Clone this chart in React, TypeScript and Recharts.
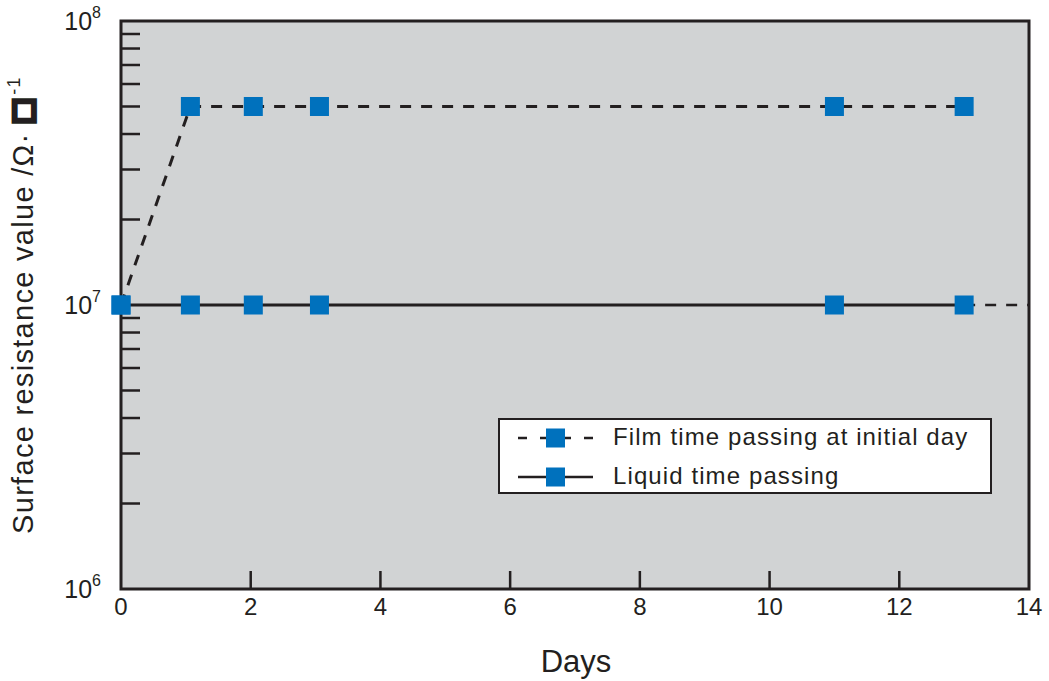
import React from 'react';
import { LineChart, Line, XAxis, YAxis, ReferenceArea, Legend } from 'recharts';

const filmDays = [0, 1.07, 2.04, 3.06, 11, 13];
const filmValues = [1e7, 5e7, 5e7, 5e7, 5e7, 5e7];
const liquidDays = [0, 1.07, 2.04, 3.06, 11, 13];
const liquidValues = [1e7, 1e7, 1e7, 1e7, 1e7, 1e7];
const tailDays = [13, 14];
const tailValues = [1e7, 1e7];
const xTicks = [0, 2, 4, 6, 8, 10, 12, 14];
const yTicks = [1e6, 2e6, 3e6, 4e6, 5e6, 6e6, 7e6, 8e6, 9e6, 1e7, 2e7, 3e7, 4e7, 5e7, 6e7, 7e7, 8e7, 9e7, 1e8];
const seriesNames = ['Film time passing at initial day', 'Liquid time passing'];

const filmData = filmDays.map((d, i) => ({ day: d, value: filmValues[i] }));
const liquidData = liquidDays.map((d, i) => ({ day: d, value: liquidValues[i] }));
const tailData = tailDays.map((d, i) => ({ day: d, value: tailValues[i] }));

const INK = '#231f20';
const BLUE = '#0071bd';
const FONT = '"Liberation Sans", Arial, Helvetica, sans-serif';

const SquareDot = (props: any) => {
  const { cx, cy } = props;
  if (cx == null || cy == null) return null;
  return <rect x={cx - 9.5} y={cy - 9.5} width={19} height={19} fill={BLUE} />;
};

const YTick = (props: any) => {
  const { x, y, payload } = props;
  const v = payload.value;
  const exp = Math.round(Math.log10(v));
  const isMajor = Math.abs(Math.pow(10, exp) - v) < 1;
  return (
    <g>
      {!isMajor && <line x1={x} x2={x + 19} y1={y} y2={y} stroke={INK} strokeWidth={2.5} />}
      {isMajor && (
        <text x={x - 20} y={y + 9} textAnchor="end" fill={INK} fontSize={25} fontFamily={FONT}>
          <tspan>10</tspan>
          <tspan dy={-12} fontSize={16}>{exp}</tspan>
        </text>
      )}
    </g>
  );
};

const XTick = (props: any) => {
  const { x, y, payload } = props;
  const v = payload.value;
  return (
    <g>
      {v !== 0 && v !== 14 && <line x1={x} x2={x} y1={y} y2={y - 18} stroke={INK} strokeWidth={2.5} />}
      <text x={x} y={y + 26} textAnchor="middle" fill={INK} fontSize={24} fontFamily={FONT}>{v}</text>
    </g>
  );
};

const LegendContent = () => (
  <div
    style={{
      width: 494,
      height: 76,
      boxSizing: 'border-box',
      border: `2.5px solid ${INK}`,
      background: '#ffffff',
      fontFamily: FONT,
      fontSize: 24,
      letterSpacing: '1.1px',
      color: INK,
      position: 'relative',
    }}
  >
    {seriesNames.map((name, i) => (
      <div key={name} style={{ position: 'absolute', left: 0, top: i === 0 ? 5 : 44, height: 26, width: '100%' }}>
        <svg width={80} height={26} style={{ position: 'absolute', left: 17, top: 0 }}>
          <line x1={1} x2={76} y1={13} y2={13} stroke={INK} strokeWidth={2.5} strokeDasharray={i === 0 ? '9 13' : undefined} />
          <rect x={29} y={3.5} width={19} height={19} fill={BLUE} />
        </svg>
        <span style={{ position: 'absolute', left: 113, top: -1, lineHeight: '26px', whiteSpace: 'nowrap' }}>{name}</span>
      </div>
    ))}
  </div>
);

export default function App() {
  return (
    <div style={{ position: 'absolute', left: 0, top: 0, width: 1049, height: 681, background: '#fff' }}>
      <LineChart width={1049} height={681} margin={{ top: 21, right: 20, bottom: 0, left: 0 }}>
        <XAxis
          dataKey="day"
          type="number"
          domain={[0, 14]}
          ticks={xTicks}
          allowDuplicatedCategory={false}
          height={92}
          tickLine={false}
          axisLine={false}
          tick={<XTick />}
          tickSize={0}
          tickMargin={0}
          interval={0}
        />
        <YAxis
          dataKey="value"
          type="number"
          scale="log"
          domain={[1e6, 1e8]}
          ticks={yTicks}
          allowDataOverflow
          width={121}
          tickLine={false}
          axisLine={false}
          tick={<YTick />}
          tickSize={0}
          tickMargin={0}
          interval={0}
        />
        <ReferenceArea x1={0} x2={14} y1={1e6} y2={1e8} fill="#d1d3d4" fillOpacity={1} stroke={INK} strokeWidth={3} ifOverflow="extendDomain" />
        <Line data={tailData} dataKey="value" stroke={INK} strokeWidth={2.5} strokeDasharray="11 10" dot={false} isAnimationActive={false} legendType="none" />
        <Line data={liquidData} dataKey="value" name={seriesNames[1]} stroke={INK} strokeWidth={3} dot={<SquareDot />} isAnimationActive={false} />
        <Line data={filmData} dataKey="value" name={seriesNames[0]} stroke={INK} strokeWidth={3} strokeDasharray="11 10" dot={<SquareDot />} isAnimationActive={false} />
        <Legend
          layout="horizontal"
          verticalAlign="middle"
          align="center"
          content={<LegendContent />}
          wrapperStyle={{ position: 'absolute', left: 498, top: 418, width: 494, height: 76 }}
        />
        <text x={576} y={672} textAnchor="middle" fill={INK} fontSize={31} fontFamily={FONT}>Days</text>
        <text
          transform="translate(33, 305) rotate(-90)"
          textAnchor="middle"
          fill={INK}
          fontSize={29}
          fontFamily={FONT}
          letterSpacing={1.3}
        >
          <tspan>Surface resistance value /Ω· </tspan>
          <tspan fill="#ffffff" stroke={INK} strokeWidth={6} fontSize={40} dy={3}>■</tspan>
          <tspan dx={3} dy={-16} fontSize={18}>-1</tspan>
        </text>
      </LineChart>
    </div>
  );
}
